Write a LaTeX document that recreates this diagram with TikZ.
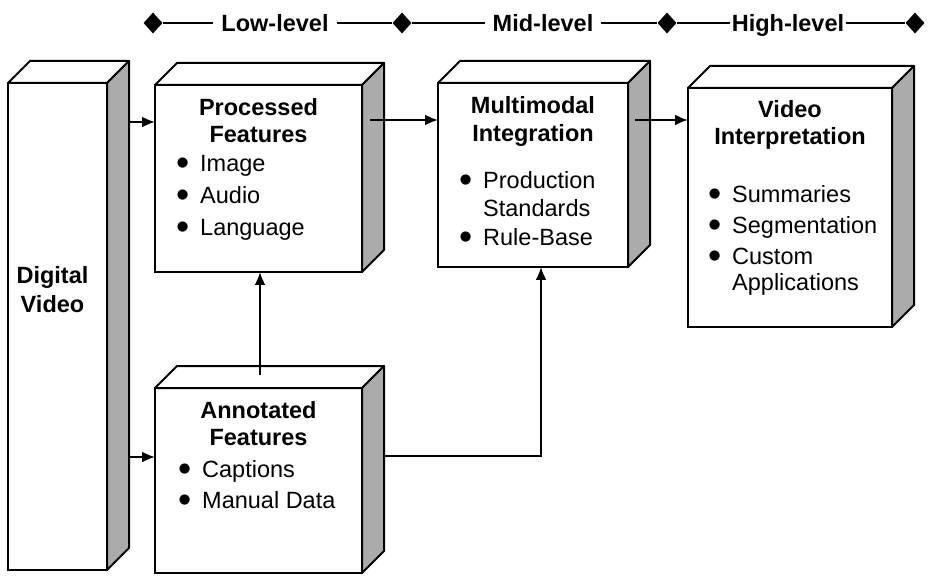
\documentclass[tikz,border=0pt]{standalone}
\usepackage{fontspec}
\setmainfont{Liberation Sans}
\usepackage{graphicx}
\usetikzlibrary{calc,positioning,shapes,arrows.meta}
\tikzstyle{block} = [rectangle, draw, line width=2pt, fill=white, inner sep=0pt, outer sep=0pt]
\tikzstyle{topface} = [draw, line width=2pt, fill=white, line join=round]
\tikzstyle{sideface} = [draw, line width=2pt, fill=black!33, line join=round]
\tikzstyle{title} = [font=\fontsize{23.5}{27}\selectfont\bfseries, align=center, inner sep=0pt]
\tikzstyle{list} = [font=\fontsize{23.5}{31}\selectfont, align=left, inner sep=0pt, anchor=north west]
\tikzstyle{stage} = [font=\fontsize{23.5}{27}\selectfont\bfseries, inner ysep=0pt, inner xsep=8pt, text height=17pt, text depth=0pt]
\tikzstyle{diam} = [diamond, fill, inner sep=0pt, minimum width=19pt, minimum height=21pt]
\tikzstyle{tierline} = [draw, line width=1.5pt]
\tikzstyle{line} = [draw, line width=2.2pt, -{Latex[length=13pt,width=11pt]}]
\newcommand{\boxdepth}[1]{%
  \filldraw[topface] (#1.north west) -- ++(22,-22) -- ($(#1.north east)+(22,-22)$) -- (#1.north east) -- cycle;
  \filldraw[sideface] (#1.north east) -- ++(22,-22) -- ($(#1.south east)+(22,-22)$) -- (#1.south east) -- cycle;}
\newcommand{\itm}{\makebox[24pt][l]{\smash{\raisebox{-4.5pt}{\scalebox{1.6}{•}}}}}

\begin{document}
\begin{tikzpicture}[x=1pt, y=-1pt]
    \useasboundingbox (0,0) rectangle (929,577);
    % Levels
    \node [diam] (d1) at (153,23) {};
    \node [diam] (d2) at (402,23) {};
    \node [diam] (d3) at (667,23) {};
    \node [diam] (d4) at (915,23) {};
    \node [stage] (low) at (275,23) {Low-level};
    \node [stage] (mid) at (543,23) {Mid-level};
    \node [stage, inner xsep=2pt] (high) at (788,23) {High-level};
    \path [tierline] (d1) -- (low) -- (d2) -- (mid) -- (d3) -- (high) -- (d4);
    % Blocks
    \node [block, minimum width=99pt, minimum height=487pt] (dv) at (57.5,326.5) {};
    \boxdepth{dv}
    \node [block, minimum width=207pt, minimum height=187pt] (proc) at (258.5,178.5) {};
    \boxdepth{proc}
    \node [block, minimum width=207pt, minimum height=185pt] (ann) at (258.5,480.5) {};
    \boxdepth{ann}
    \node [block, minimum width=190pt, minimum height=184pt] (multi) at (533,175) {};
    \boxdepth{multi}
    \node [block, minimum width=204pt, minimum height=239pt] (vid) at (790,207.5) {};
    \boxdepth{vid}
    % Texts
    \node [title, font=\fontsize{23.5}{29}\selectfont\bfseries, anchor=north] (dvtitle) at (52.5,266) {Digital\\Video};
    \node [title, below=13pt of proc.north] (proctitle) {Processed\\Features};
    \node [list] (proclist) at (176,155) {\itm Image\\[1pt] \itm Audio\\[1pt] \itm Language};
    \node [title, below=13pt of ann.north] (anntitle) {Annotated\\Features};
    \node [list] (annlist) at (178,460) {\itm Captions\\ \itm Manual Data};
    \node [title, font=\fontsize{23.5}{28}\selectfont\bfseries, below=13pt of multi.north] (multititle) {Multimodal\\Integration};
    \node [list, font=\fontsize{23.5}{28.5}\selectfont] (multilist) at (459,171) {\itm Production\\ \hspace*{24pt}Standards\\ \itm Rule-Base};
    \node [title, below=12pt of vid.north] (vidtitle) {Video\\Interpretation};
    \node [list] (vidlist) at (708,185) {\itm Summaries\\ \itm Segmentation\\ \itm Custom\\[-5pt] \hspace*{24pt}Applications};
    % Lines
    \coordinate (dvout1) at ($(dv.north east)+(22,39)$);
    \coordinate (dvout2) at ($(dv.north east)+(22,374)$);
    \coordinate (procout) at ($(proc.north east)+(8,35)$);
    \coordinate (multiout) at ($(multi.north east)+(7,37)$);
    \coordinate (annup) at ($(ann.north)+(1.5,-13)$);
    \coordinate (annout) at ($(ann.north east)+(23,68)$);
    \path [line] (dvout1) -- (dvout1 -| proc.west);
    \path [line] (dvout2) -- (dvout2 -| ann.west);
    \path [line] (procout) -- (procout -| multi.west);
    \path [line] (multiout) -- (multiout -| vid.west);
    \path [line] (annup) -- (annup |- proc.south);
    \path [line] (annout) -| ([xshift=8pt]multi.south);
\end{tikzpicture}
\end{document}
